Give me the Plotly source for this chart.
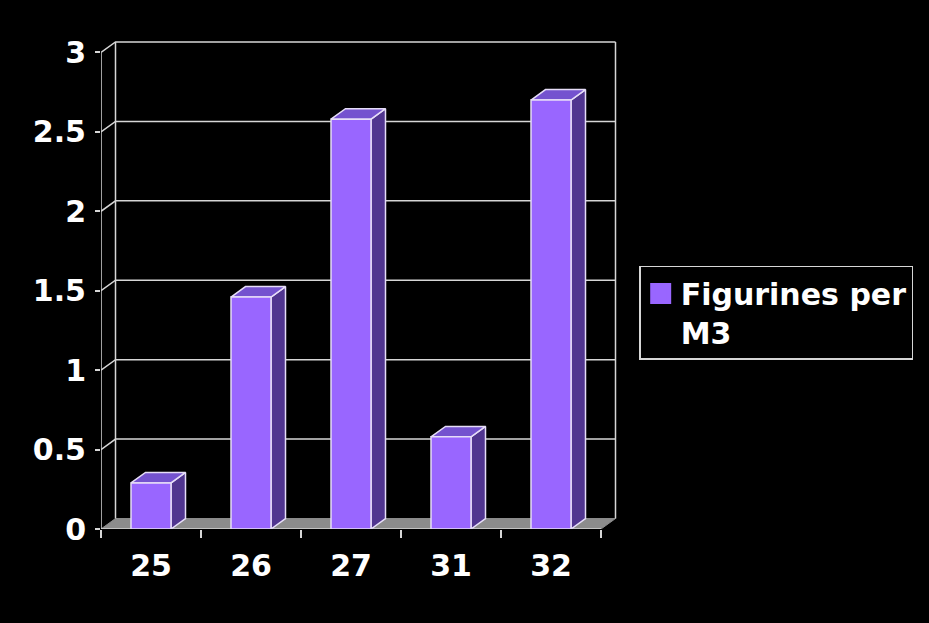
import plotly.graph_objects as go

# ---- data ----
categories = ["25", "26", "27", "31", "32"]
values = [0.29, 1.46, 2.58, 0.58, 2.70]
y_ticks = [0, 0.5, 1, 1.5, 2, 2.5, 3]
y_tick_labels = ["0", "0.5", "1", "1.5", "2", "2.5", "3"]
series_name = "Figurines per<br>M3"

# ---- pseudo-3D geometry (in axis units) ----
BAR_W = 0.4
DX = 0.145
DY = 0.066
n = len(categories)
xs = list(range(n))
x_lo, x_hi = -0.5, n - 0.5
y_top = y_ticks[-1]

FRONT = "#9966FF"
TOP = "#7452CF"
SIDE = "#50358F"
EDGE = "#E6DDF8"
GRID = "#D6D6D6"
FLOOR = "#8C8C8C"
FONT = "DejaVu Sans"

fig = go.Figure()

# floor
fig.add_trace(go.Scatter(
    x=[x_lo, x_hi, x_hi + DX, x_lo + DX, x_lo],
    y=[0, 0, DY, DY, 0],
    mode="lines", fill="toself", fillcolor=FLOOR,
    line=dict(color=FLOOR, width=1), hoverinfo="skip", showlegend=False))

# walls: back-wall gridlines, left-wall diagonals, wall verticals
gx, gy = [], []
for v in y_ticks[1:]:
    gx += [x_lo, x_lo + DX, x_hi + DX, None]
    gy += [v, v + DY, v + DY, None]
gx += [x_lo + DX, x_lo + DX, None, x_hi + DX, x_hi + DX, None]
gy += [DY, y_top + DY, None, DY, y_top + DY, None]
gx += [x_lo, x_lo, None]
gy += [0, y_top, None]
fig.add_trace(go.Scatter(x=gx, y=gy, mode="lines",
                         line=dict(color=GRID, width=1.5),
                         hoverinfo="skip", showlegend=False))

# front edge of floor
fig.add_trace(go.Scatter(x=[x_lo, x_hi], y=[0, 0], mode="lines",
                         line=dict(color=GRID, width=1.5),
                         hoverinfo="skip", showlegend=False))

# bars: side faces, top faces, front faces
sx, sy, tx, ty, fx, fy = [], [], [], [], [], []
for x, v in zip(xs, values):
    l, r = x - BAR_W / 2, x + BAR_W / 2
    sx += [r, r + DX, r + DX, r, r, None]
    sy += [0, DY, v + DY, v, 0, None]
    tx += [l, r, r + DX, l + DX, l, None]
    ty += [v, v, v + DY, v + DY, v, None]
    fx += [l, r, r, l, l, None]
    fy += [0, 0, v, v, 0, None]

fig.add_trace(go.Scatter(x=sx, y=sy, mode="lines", fill="toself",
                         fillcolor=SIDE, line=dict(color=EDGE, width=1.5),
                         hoverinfo="skip", showlegend=False))
fig.add_trace(go.Scatter(x=tx, y=ty, mode="lines", fill="toself",
                         fillcolor=TOP, line=dict(color=EDGE, width=1.5),
                         hoverinfo="skip", showlegend=False))
fig.add_trace(go.Scatter(x=fx, y=fy, mode="lines", fill="toself",
                         fillcolor=FRONT, line=dict(color=EDGE, width=1.5),
                         hoverinfo="skip", showlegend=False))

# legend entry
fig.add_trace(go.Scatter(x=[None], y=[None], mode="markers", name=series_name,
                         marker=dict(symbol="square", size=16, color=FRONT,
                                     line=dict(color=FRONT, width=5))))

fig.update_layout(
    width=929, height=623,
    paper_bgcolor="black", plot_bgcolor="black",
    margin=dict(l=101, r=312, t=41, b=94),
    font=dict(family=FONT, color="white", size=30),
    showlegend=True,
    legend=dict(x=1.043, y=0.539, xanchor="left", yanchor="top",
                bgcolor="black", bordercolor=GRID, borderwidth=1.5,
                font=dict(family=FONT, size=30, color="white", weight="bold"),
                valign="top"),
    xaxis=dict(range=[x_lo, x_hi + DX + 0.015], showgrid=False, zeroline=False,
               showline=False, tickmode="array", tickvals=xs, ticktext=categories,
               ticks="", tickfont=dict(family=FONT, size=30, color="white", weight="bold"),
               ticklabelstandoff=16,
               minor=dict(ticks="outside", tick0=x_lo, dtick=1, ticklen=8,
                          tickcolor=GRID, tickwidth=1.5, showgrid=False)),
    yaxis=dict(range=[0, y_top + DY + 0.006], showgrid=False, zeroline=False,
               showline=False, tickmode="array", tickvals=y_ticks, ticktext=y_tick_labels,
               ticks="outside", ticklen=5, tickcolor=GRID, tickwidth=1.5,
               tickfont=dict(family=FONT, size=30, color="white", weight="bold"),
               ticklabelstandoff=3),
)

fig.write_html(
    "out.html",
    config={"displayModeBar": False},
    post_script="document.body.style.margin='0';document.body.style.background='black';",
)
